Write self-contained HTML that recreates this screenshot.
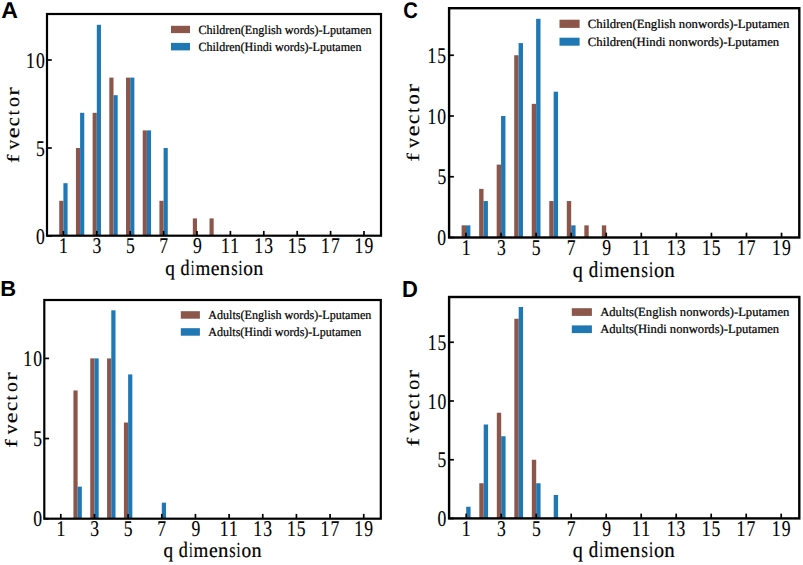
<!DOCTYPE html>
<html><head><meta charset="utf-8"><style>
html,body{margin:0;padding:0;background:#fff;width:803px;height:565px;overflow:hidden}
svg{display:block}
text{text-rendering:geometricPrecision;font-family:'Liberation Serif', serif;fill:#000;stroke:#000;stroke-width:0.12px}
</style></head><body>
<svg width="803" height="565" viewBox="0 0 803 565">
<rect width="803" height="565" fill="#fff"/>
<rect x="59.23" y="200.8" width="4.17" height="34.9" fill="#8c564b"/>
<rect x="75.92" y="148" width="4.17" height="87.7" fill="#8c564b"/>
<rect x="92.62" y="112.8" width="4.17" height="122.9" fill="#8c564b"/>
<rect x="109.33" y="77.6" width="4.17" height="158.1" fill="#8c564b"/>
<rect x="126.02" y="77.6" width="4.17" height="158.1" fill="#8c564b"/>
<rect x="142.72" y="130.4" width="4.17" height="105.3" fill="#8c564b"/>
<rect x="159.42" y="200.8" width="4.17" height="34.9" fill="#8c564b"/>
<rect x="192.82" y="218.4" width="4.17" height="17.3" fill="#8c564b"/>
<rect x="209.52" y="218.4" width="4.17" height="17.3" fill="#8c564b"/>
<rect x="63.4" y="183.2" width="4.17" height="52.5" fill="#1f77b4"/>
<rect x="80.1" y="112.8" width="4.17" height="122.9" fill="#1f77b4"/>
<rect x="96.8" y="24.8" width="4.17" height="210.9" fill="#1f77b4"/>
<rect x="113.5" y="95.2" width="4.17" height="140.5" fill="#1f77b4"/>
<rect x="130.2" y="77.6" width="4.17" height="158.1" fill="#1f77b4"/>
<rect x="146.9" y="130.4" width="4.17" height="105.3" fill="#1f77b4"/>
<rect x="163.6" y="148" width="4.17" height="87.7" fill="#1f77b4"/>
<rect x="47" y="14" width="334" height="221.7" fill="none" stroke="#000" stroke-width="2.2"/>
<line x1="63.4" y1="235.7" x2="63.4" y2="230.9" stroke="#000" stroke-width="1.7"/>
<line x1="96.8" y1="235.7" x2="96.8" y2="230.9" stroke="#000" stroke-width="1.7"/>
<line x1="130.2" y1="235.7" x2="130.2" y2="230.9" stroke="#000" stroke-width="1.7"/>
<line x1="163.6" y1="235.7" x2="163.6" y2="230.9" stroke="#000" stroke-width="1.7"/>
<line x1="197" y1="235.7" x2="197" y2="230.9" stroke="#000" stroke-width="1.7"/>
<line x1="230.4" y1="235.7" x2="230.4" y2="230.9" stroke="#000" stroke-width="1.7"/>
<line x1="263.8" y1="235.7" x2="263.8" y2="230.9" stroke="#000" stroke-width="1.7"/>
<line x1="297.2" y1="235.7" x2="297.2" y2="230.9" stroke="#000" stroke-width="1.7"/>
<line x1="330.6" y1="235.7" x2="330.6" y2="230.9" stroke="#000" stroke-width="1.7"/>
<line x1="364" y1="235.7" x2="364" y2="230.9" stroke="#000" stroke-width="1.7"/>
<line x1="47" y1="236" x2="51.8" y2="236" stroke="#000" stroke-width="1.7"/>
<line x1="47" y1="148" x2="51.8" y2="148" stroke="#000" stroke-width="1.7"/>
<line x1="47" y1="60" x2="51.8" y2="60" stroke="#000" stroke-width="1.7"/>
<text transform="translate(59.05 252.5) scale(0.783 1)" letter-spacing="1.4" font-size="22.5" style="stroke-width:0.15px">1</text>
<text transform="translate(92.62 252.5) scale(0.783 1)" letter-spacing="1.4" font-size="22.5" style="stroke-width:0.15px">3</text>
<text transform="translate(125.93 252.5) scale(0.783 1)" letter-spacing="1.4" font-size="22.5" style="stroke-width:0.15px">5</text>
<text transform="translate(159.17 252.5) scale(0.783 1)" letter-spacing="1.4" font-size="22.5" style="stroke-width:0.15px">7</text>
<text transform="translate(192.97 252.5) scale(0.783 1)" letter-spacing="1.4" font-size="22.5" style="stroke-width:0.15px">9</text>
<text transform="translate(221.1 252.5) scale(0.783 1)" letter-spacing="1.4" font-size="22.5" style="stroke-width:0.15px">11</text>
<text transform="translate(254.31 252.5) scale(0.783 1)" letter-spacing="1.4" font-size="22.5" style="stroke-width:0.15px">13</text>
<text transform="translate(287.71 252.5) scale(0.783 1)" letter-spacing="1.4" font-size="22.5" style="stroke-width:0.15px">15</text>
<text transform="translate(321.02 252.5) scale(0.783 1)" letter-spacing="1.4" font-size="22.5" style="stroke-width:0.15px">17</text>
<text transform="translate(354.53 252.5) scale(0.783 1)" letter-spacing="1.4" font-size="22.5" style="stroke-width:0.15px">19</text>
<text transform="translate(35.96 243.58) scale(0.783 1)" letter-spacing="1.4" font-size="22.5" style="stroke-width:0.15px">0</text>
<text transform="translate(35.98 155.58) scale(0.783 1)" letter-spacing="1.4" font-size="22.5" style="stroke-width:0.15px">5</text>
<text transform="translate(26.06 67.58) scale(0.783 1)" letter-spacing="1.4" font-size="22.5" style="stroke-width:0.15px">10</text>
<g transform="translate(165.6 274.5)"><text transform="translate(-0.30 0) scale(0.936 1)" font-size="20.60" style="stroke-width:0.2px">q</text><text transform="translate(14.94 0) scale(0.824 1)" font-size="22.04" style="stroke-width:0.2px">d</text><text transform="translate(25.35 0) scale(0.544 1)" font-size="21.63" style="stroke-width:0.2px">i</text><text transform="translate(29.80 0) scale(0.923 1)" font-size="20.60" style="stroke-width:0.2px">m</text><text transform="translate(45.13 0) scale(0.957 1)" font-size="20.60" style="stroke-width:0.2px">e</text><text transform="translate(54.22 0) scale(1.009 1)" font-size="20.60" style="stroke-width:0.2px">n</text><text transform="translate(65.53 0) scale(0.793 1)" font-size="20.60" style="stroke-width:0.2px">s</text><text transform="translate(72.80 0) scale(0.661 1)" font-size="21.63" style="stroke-width:0.2px">i</text><text transform="translate(77.66 0) scale(0.939 1)" font-size="20.60" style="stroke-width:0.2px">o</text><text transform="translate(87.64 0) scale(0.977 1)" font-size="20.60" style="stroke-width:0.2px">n</text></g>
<g transform="translate(18.8 162.6) rotate(-90)"><text transform="translate(-0.38 0) scale(1.485 1)" font-size="17.15" style="stroke-width:0.15px">f</text><text transform="translate(13.10 0) scale(1.018 1)" font-size="19.25" style="stroke-width:0.15px">v</text><text transform="translate(24.24 0) scale(1.277 1)" font-size="19.25" style="stroke-width:0.15px">e</text><text transform="translate(36.42 0) scale(1.067 1)" font-size="19.25" style="stroke-width:0.15px">c</text><text transform="translate(47.33 0) scale(0.934 1)" font-size="18.38" style="stroke-width:0.15px">t</text><text transform="translate(55.55 0) scale(1.030 1)" font-size="19.25" style="stroke-width:0.15px">o</text><text transform="translate(66.79 0) scale(1.315 1)" font-size="19.25" style="stroke-width:0.15px">r</text></g>
<rect x="171" y="25.8" width="19" height="7.3" fill="#8c564b"/>
<rect x="171" y="42.9" width="19" height="7.5" fill="#1f77b4"/>
<text x="198.4" y="33.9" font-size="12.5" textLength="173.28" lengthAdjust="spacingAndGlyphs" style="stroke-width:0.22px">Children(English words)-Lputamen</text>
<text x="198.41" y="50.9" font-size="12.5" textLength="163.08" lengthAdjust="spacingAndGlyphs" style="stroke-width:0.22px">Children(Hindi words)-Lputamen</text>
<text transform="translate(1.22 17.9) scale(1.006 1)" style="font-family:'Liberation Sans', sans-serif;font-weight:bold;stroke:none" font-size="22.97">A</text>
<rect x="73.42" y="390.46" width="4.21" height="128.24" fill="#8c564b"/>
<rect x="90.25" y="358.4" width="4.21" height="160.3" fill="#8c564b"/>
<rect x="107.08" y="358.4" width="4.21" height="160.3" fill="#8c564b"/>
<rect x="123.91" y="422.52" width="4.21" height="96.18" fill="#8c564b"/>
<rect x="77.63" y="486.64" width="4.21" height="32.06" fill="#1f77b4"/>
<rect x="94.46" y="358.4" width="4.21" height="160.3" fill="#1f77b4"/>
<rect x="111.29" y="310.31" width="4.21" height="208.39" fill="#1f77b4"/>
<rect x="128.12" y="374.43" width="4.21" height="144.27" fill="#1f77b4"/>
<rect x="161.78" y="502.67" width="4.21" height="16.03" fill="#1f77b4"/>
<rect x="44.3" y="300" width="336.5" height="218.7" fill="none" stroke="#000" stroke-width="2.2"/>
<line x1="60.8" y1="518.7" x2="60.8" y2="513.9" stroke="#000" stroke-width="1.7"/>
<line x1="94.46" y1="518.7" x2="94.46" y2="513.9" stroke="#000" stroke-width="1.7"/>
<line x1="128.12" y1="518.7" x2="128.12" y2="513.9" stroke="#000" stroke-width="1.7"/>
<line x1="161.78" y1="518.7" x2="161.78" y2="513.9" stroke="#000" stroke-width="1.7"/>
<line x1="195.44" y1="518.7" x2="195.44" y2="513.9" stroke="#000" stroke-width="1.7"/>
<line x1="229.1" y1="518.7" x2="229.1" y2="513.9" stroke="#000" stroke-width="1.7"/>
<line x1="262.76" y1="518.7" x2="262.76" y2="513.9" stroke="#000" stroke-width="1.7"/>
<line x1="296.42" y1="518.7" x2="296.42" y2="513.9" stroke="#000" stroke-width="1.7"/>
<line x1="330.08" y1="518.7" x2="330.08" y2="513.9" stroke="#000" stroke-width="1.7"/>
<line x1="363.74" y1="518.7" x2="363.74" y2="513.9" stroke="#000" stroke-width="1.7"/>
<line x1="44.3" y1="518.7" x2="49.1" y2="518.7" stroke="#000" stroke-width="1.7"/>
<line x1="44.3" y1="438.55" x2="49.1" y2="438.55" stroke="#000" stroke-width="1.7"/>
<line x1="44.3" y1="358.4" x2="49.1" y2="358.4" stroke="#000" stroke-width="1.7"/>
<text transform="translate(56.45 535.5) scale(0.783 1)" letter-spacing="1.4" font-size="22.5" style="stroke-width:0.15px">1</text>
<text transform="translate(90.28 535.5) scale(0.783 1)" letter-spacing="1.4" font-size="22.5" style="stroke-width:0.15px">3</text>
<text transform="translate(123.85 535.5) scale(0.783 1)" letter-spacing="1.4" font-size="22.5" style="stroke-width:0.15px">5</text>
<text transform="translate(157.35 535.5) scale(0.783 1)" letter-spacing="1.4" font-size="22.5" style="stroke-width:0.15px">7</text>
<text transform="translate(191.41 535.5) scale(0.783 1)" letter-spacing="1.4" font-size="22.5" style="stroke-width:0.15px">9</text>
<text transform="translate(219.8 535.5) scale(0.783 1)" letter-spacing="1.4" font-size="22.5" style="stroke-width:0.15px">11</text>
<text transform="translate(253.27 535.5) scale(0.783 1)" letter-spacing="1.4" font-size="22.5" style="stroke-width:0.15px">13</text>
<text transform="translate(286.93 535.5) scale(0.783 1)" letter-spacing="1.4" font-size="22.5" style="stroke-width:0.15px">15</text>
<text transform="translate(320.5 535.5) scale(0.783 1)" letter-spacing="1.4" font-size="22.5" style="stroke-width:0.15px">17</text>
<text transform="translate(354.27 535.5) scale(0.783 1)" letter-spacing="1.4" font-size="22.5" style="stroke-width:0.15px">19</text>
<text transform="translate(33.26 526.28) scale(0.783 1)" letter-spacing="1.4" font-size="22.5" style="stroke-width:0.15px">0</text>
<text transform="translate(33.28 446.13) scale(0.783 1)" letter-spacing="1.4" font-size="22.5" style="stroke-width:0.15px">5</text>
<text transform="translate(23.36 365.98) scale(0.783 1)" letter-spacing="1.4" font-size="22.5" style="stroke-width:0.15px">10</text>
<g transform="translate(163.8 556.7)"><text transform="translate(-0.30 0) scale(0.936 1)" font-size="20.60" style="stroke-width:0.2px">q</text><text transform="translate(14.94 0) scale(0.824 1)" font-size="22.04" style="stroke-width:0.2px">d</text><text transform="translate(25.35 0) scale(0.544 1)" font-size="21.63" style="stroke-width:0.2px">i</text><text transform="translate(29.80 0) scale(0.923 1)" font-size="20.60" style="stroke-width:0.2px">m</text><text transform="translate(45.13 0) scale(0.957 1)" font-size="20.60" style="stroke-width:0.2px">e</text><text transform="translate(54.22 0) scale(1.009 1)" font-size="20.60" style="stroke-width:0.2px">n</text><text transform="translate(65.53 0) scale(0.793 1)" font-size="20.60" style="stroke-width:0.2px">s</text><text transform="translate(72.80 0) scale(0.661 1)" font-size="21.63" style="stroke-width:0.2px">i</text><text transform="translate(77.66 0) scale(0.939 1)" font-size="20.60" style="stroke-width:0.2px">o</text><text transform="translate(87.64 0) scale(0.977 1)" font-size="20.60" style="stroke-width:0.2px">n</text></g>
<g transform="translate(16.5 447.3) rotate(-90)"><text transform="translate(-0.38 0) scale(1.485 1)" font-size="17.06" style="stroke-width:0.15px">f</text><text transform="translate(13.04 0) scale(1.018 1)" font-size="19.15" style="stroke-width:0.15px">v</text><text transform="translate(24.12 0) scale(1.277 1)" font-size="19.15" style="stroke-width:0.15px">e</text><text transform="translate(36.24 0) scale(1.066 1)" font-size="19.15" style="stroke-width:0.15px">c</text><text transform="translate(47.10 0) scale(0.933 1)" font-size="18.28" style="stroke-width:0.15px">t</text><text transform="translate(55.27 0) scale(1.029 1)" font-size="19.15" style="stroke-width:0.15px">o</text><text transform="translate(66.46 0) scale(1.314 1)" font-size="19.15" style="stroke-width:0.15px">r</text></g>
<rect x="180.8" y="311.2" width="19.1" height="7.5" fill="#8c564b"/>
<rect x="180.8" y="328.2" width="19.1" height="7.5" fill="#1f77b4"/>
<text x="208.18" y="319.1" font-size="12.5" textLength="163.2" lengthAdjust="spacingAndGlyphs" style="stroke-width:0.22px">Adults(English words)-Lputamen</text>
<text x="208.18" y="336.2" font-size="12.5" textLength="153.1" lengthAdjust="spacingAndGlyphs" style="stroke-width:0.22px">Adults(Hindi words)-Lputamen</text>
<text transform="translate(0.33 296.4) scale(1.015 1)" style="font-family:'Liberation Sans', sans-serif;font-weight:bold;stroke:none" font-size="21.66">B</text>
<rect x="461.62" y="225.35" width="4.38" height="12.15" fill="#8c564b"/>
<rect x="479.15" y="188.9" width="4.38" height="48.6" fill="#8c564b"/>
<rect x="496.68" y="164.6" width="4.38" height="72.9" fill="#8c564b"/>
<rect x="514.21" y="55.25" width="4.38" height="182.25" fill="#8c564b"/>
<rect x="531.74" y="103.85" width="4.38" height="133.65" fill="#8c564b"/>
<rect x="549.27" y="201.05" width="4.38" height="36.45" fill="#8c564b"/>
<rect x="566.8" y="201.05" width="4.38" height="36.45" fill="#8c564b"/>
<rect x="584.33" y="225.35" width="4.38" height="12.15" fill="#8c564b"/>
<rect x="601.86" y="225.35" width="4.38" height="12.15" fill="#8c564b"/>
<rect x="466" y="225.35" width="4.38" height="12.15" fill="#1f77b4"/>
<rect x="483.53" y="201.05" width="4.38" height="36.45" fill="#1f77b4"/>
<rect x="501.06" y="116" width="4.38" height="121.5" fill="#1f77b4"/>
<rect x="518.59" y="43.1" width="4.38" height="194.4" fill="#1f77b4"/>
<rect x="536.12" y="18.8" width="4.38" height="218.7" fill="#1f77b4"/>
<rect x="553.65" y="91.7" width="4.38" height="145.8" fill="#1f77b4"/>
<rect x="571.18" y="225.35" width="4.38" height="12.15" fill="#1f77b4"/>
<rect x="449.1" y="8.2" width="350.2" height="229.3" fill="none" stroke="#000" stroke-width="2.4"/>
<line x1="466" y1="237.5" x2="466" y2="232.7" stroke="#000" stroke-width="1.7"/>
<line x1="501.06" y1="237.5" x2="501.06" y2="232.7" stroke="#000" stroke-width="1.7"/>
<line x1="536.12" y1="237.5" x2="536.12" y2="232.7" stroke="#000" stroke-width="1.7"/>
<line x1="571.18" y1="237.5" x2="571.18" y2="232.7" stroke="#000" stroke-width="1.7"/>
<line x1="606.24" y1="237.5" x2="606.24" y2="232.7" stroke="#000" stroke-width="1.7"/>
<line x1="641.3" y1="237.5" x2="641.3" y2="232.7" stroke="#000" stroke-width="1.7"/>
<line x1="676.36" y1="237.5" x2="676.36" y2="232.7" stroke="#000" stroke-width="1.7"/>
<line x1="711.42" y1="237.5" x2="711.42" y2="232.7" stroke="#000" stroke-width="1.7"/>
<line x1="746.48" y1="237.5" x2="746.48" y2="232.7" stroke="#000" stroke-width="1.7"/>
<line x1="781.54" y1="237.5" x2="781.54" y2="232.7" stroke="#000" stroke-width="1.7"/>
<line x1="449.1" y1="237.5" x2="453.9" y2="237.5" stroke="#000" stroke-width="1.7"/>
<line x1="449.1" y1="176.75" x2="453.9" y2="176.75" stroke="#000" stroke-width="1.7"/>
<line x1="449.1" y1="116" x2="453.9" y2="116" stroke="#000" stroke-width="1.7"/>
<line x1="449.1" y1="55.25" x2="453.9" y2="55.25" stroke="#000" stroke-width="1.7"/>
<text transform="translate(461.65 254.9) scale(0.783 1)" letter-spacing="1.4" font-size="22.5" style="stroke-width:0.15px">1</text>
<text transform="translate(496.88 254.9) scale(0.783 1)" letter-spacing="1.4" font-size="22.5" style="stroke-width:0.15px">3</text>
<text transform="translate(531.85 254.9) scale(0.783 1)" letter-spacing="1.4" font-size="22.5" style="stroke-width:0.15px">5</text>
<text transform="translate(566.75 254.9) scale(0.783 1)" letter-spacing="1.4" font-size="22.5" style="stroke-width:0.15px">7</text>
<text transform="translate(602.21 254.9) scale(0.783 1)" letter-spacing="1.4" font-size="22.5" style="stroke-width:0.15px">9</text>
<text transform="translate(632 254.9) scale(0.783 1)" letter-spacing="1.4" font-size="22.5" style="stroke-width:0.15px">11</text>
<text transform="translate(666.87 254.9) scale(0.783 1)" letter-spacing="1.4" font-size="22.5" style="stroke-width:0.15px">13</text>
<text transform="translate(701.93 254.9) scale(0.783 1)" letter-spacing="1.4" font-size="22.5" style="stroke-width:0.15px">15</text>
<text transform="translate(736.9 254.9) scale(0.783 1)" letter-spacing="1.4" font-size="22.5" style="stroke-width:0.15px">17</text>
<text transform="translate(772.07 254.9) scale(0.783 1)" letter-spacing="1.4" font-size="22.5" style="stroke-width:0.15px">19</text>
<text transform="translate(437.36 245.08) scale(0.783 1)" letter-spacing="1.4" font-size="22.5" style="stroke-width:0.15px">0</text>
<text transform="translate(437.38 184.33) scale(0.783 1)" letter-spacing="1.4" font-size="22.5" style="stroke-width:0.15px">5</text>
<text transform="translate(427.46 123.58) scale(0.783 1)" letter-spacing="1.4" font-size="22.5" style="stroke-width:0.15px">10</text>
<text transform="translate(427.47 62.83) scale(0.783 1)" letter-spacing="1.4" font-size="22.5" style="stroke-width:0.15px">15</text>
<g transform="translate(573.2 277.2)"><text transform="translate(-0.33 0) scale(0.940 1)" font-size="21.42" style="stroke-width:0.2px">q</text><text transform="translate(15.52 0) scale(0.827 1)" font-size="22.92" style="stroke-width:0.2px">d</text><text transform="translate(26.35 0) scale(0.550 1)" font-size="22.50" style="stroke-width:0.2px">i</text><text transform="translate(30.98 0) scale(0.925 1)" font-size="21.42" style="stroke-width:0.2px">m</text><text transform="translate(46.92 0) scale(0.961 1)" font-size="21.42" style="stroke-width:0.2px">e</text><text transform="translate(56.37 0) scale(1.012 1)" font-size="21.42" style="stroke-width:0.2px">n</text><text transform="translate(68.13 0) scale(0.798 1)" font-size="21.42" style="stroke-width:0.2px">s</text><text transform="translate(75.69 0) scale(0.667 1)" font-size="22.50" style="stroke-width:0.2px">i</text><text transform="translate(80.75 0) scale(0.943 1)" font-size="21.42" style="stroke-width:0.2px">o</text><text transform="translate(91.13 0) scale(0.981 1)" font-size="21.42" style="stroke-width:0.2px">n</text></g>
<g transform="translate(419 161.3) rotate(-90)"><text transform="translate(-0.41 0) scale(1.489 1)" font-size="17.58" style="stroke-width:0.15px">f</text><text transform="translate(13.42 0) scale(1.020 1)" font-size="19.73" style="stroke-width:0.15px">v</text><text transform="translate(24.83 0) scale(1.280 1)" font-size="19.73" style="stroke-width:0.15px">e</text><text transform="translate(37.32 0) scale(1.069 1)" font-size="19.73" style="stroke-width:0.15px">c</text><text transform="translate(48.50 0) scale(0.938 1)" font-size="18.83" style="stroke-width:0.15px">t</text><text transform="translate(56.92 0) scale(1.032 1)" font-size="19.73" style="stroke-width:0.15px">o</text><text transform="translate(68.45 0) scale(1.318 1)" font-size="19.73" style="stroke-width:0.15px">r</text></g>
<rect x="559.5" y="19.7" width="20.1" height="8.2" fill="#8c564b"/>
<rect x="559.5" y="37.7" width="20.1" height="8" fill="#1f77b4"/>
<text x="587.78" y="28.3" font-size="12.5" textLength="201.62" lengthAdjust="spacingAndGlyphs" style="stroke-width:0.22px">Children(English nonwords)-Lputamen</text>
<text x="587.78" y="45.7" font-size="12.5" textLength="191.42" lengthAdjust="spacingAndGlyphs" style="stroke-width:0.22px">Children(Hindi nonwords)-Lputamen</text>
<text transform="translate(403.17 18) scale(0.892 1)" style="font-family:'Liberation Sans', sans-serif;font-weight:bold;stroke:none" font-size="22.63">C</text>
<rect x="479.32" y="483.25" width="4.38" height="35.15" fill="#8c564b"/>
<rect x="496.82" y="412.75" width="4.38" height="105.65" fill="#8c564b"/>
<rect x="514.33" y="318.75" width="4.38" height="199.65" fill="#8c564b"/>
<rect x="531.83" y="459.75" width="4.38" height="58.65" fill="#8c564b"/>
<rect x="466.2" y="506.75" width="4.38" height="11.65" fill="#1f77b4"/>
<rect x="483.7" y="424.5" width="4.38" height="93.9" fill="#1f77b4"/>
<rect x="501.2" y="436.25" width="4.38" height="82.15" fill="#1f77b4"/>
<rect x="518.7" y="307" width="4.38" height="211.4" fill="#1f77b4"/>
<rect x="536.2" y="483.25" width="4.38" height="35.15" fill="#1f77b4"/>
<rect x="553.7" y="495" width="4.38" height="23.4" fill="#1f77b4"/>
<rect x="449.1" y="297" width="350.2" height="221.4" fill="none" stroke="#000" stroke-width="2.4"/>
<line x1="466.2" y1="518.4" x2="466.2" y2="513.6" stroke="#000" stroke-width="1.7"/>
<line x1="501.2" y1="518.4" x2="501.2" y2="513.6" stroke="#000" stroke-width="1.7"/>
<line x1="536.2" y1="518.4" x2="536.2" y2="513.6" stroke="#000" stroke-width="1.7"/>
<line x1="571.2" y1="518.4" x2="571.2" y2="513.6" stroke="#000" stroke-width="1.7"/>
<line x1="606.2" y1="518.4" x2="606.2" y2="513.6" stroke="#000" stroke-width="1.7"/>
<line x1="641.2" y1="518.4" x2="641.2" y2="513.6" stroke="#000" stroke-width="1.7"/>
<line x1="676.2" y1="518.4" x2="676.2" y2="513.6" stroke="#000" stroke-width="1.7"/>
<line x1="711.2" y1="518.4" x2="711.2" y2="513.6" stroke="#000" stroke-width="1.7"/>
<line x1="746.2" y1="518.4" x2="746.2" y2="513.6" stroke="#000" stroke-width="1.7"/>
<line x1="781.2" y1="518.4" x2="781.2" y2="513.6" stroke="#000" stroke-width="1.7"/>
<line x1="449.1" y1="518.5" x2="453.9" y2="518.5" stroke="#000" stroke-width="1.7"/>
<line x1="449.1" y1="459.75" x2="453.9" y2="459.75" stroke="#000" stroke-width="1.7"/>
<line x1="449.1" y1="401" x2="453.9" y2="401" stroke="#000" stroke-width="1.7"/>
<line x1="449.1" y1="342.25" x2="453.9" y2="342.25" stroke="#000" stroke-width="1.7"/>
<text transform="translate(461.85 535.5) scale(0.783 1)" letter-spacing="1.4" font-size="22.5" style="stroke-width:0.15px">1</text>
<text transform="translate(497.02 535.5) scale(0.783 1)" letter-spacing="1.4" font-size="22.5" style="stroke-width:0.15px">3</text>
<text transform="translate(531.93 535.5) scale(0.783 1)" letter-spacing="1.4" font-size="22.5" style="stroke-width:0.15px">5</text>
<text transform="translate(566.77 535.5) scale(0.783 1)" letter-spacing="1.4" font-size="22.5" style="stroke-width:0.15px">7</text>
<text transform="translate(602.17 535.5) scale(0.783 1)" letter-spacing="1.4" font-size="22.5" style="stroke-width:0.15px">9</text>
<text transform="translate(631.9 535.5) scale(0.783 1)" letter-spacing="1.4" font-size="22.5" style="stroke-width:0.15px">11</text>
<text transform="translate(666.71 535.5) scale(0.783 1)" letter-spacing="1.4" font-size="22.5" style="stroke-width:0.15px">13</text>
<text transform="translate(701.71 535.5) scale(0.783 1)" letter-spacing="1.4" font-size="22.5" style="stroke-width:0.15px">15</text>
<text transform="translate(736.62 535.5) scale(0.783 1)" letter-spacing="1.4" font-size="22.5" style="stroke-width:0.15px">17</text>
<text transform="translate(771.73 535.5) scale(0.783 1)" letter-spacing="1.4" font-size="22.5" style="stroke-width:0.15px">19</text>
<text transform="translate(437.56 526.08) scale(0.783 1)" letter-spacing="1.4" font-size="22.5" style="stroke-width:0.15px">0</text>
<text transform="translate(437.58 467.33) scale(0.783 1)" letter-spacing="1.4" font-size="22.5" style="stroke-width:0.15px">5</text>
<text transform="translate(427.66 408.58) scale(0.783 1)" letter-spacing="1.4" font-size="22.5" style="stroke-width:0.15px">10</text>
<text transform="translate(427.67 349.83) scale(0.783 1)" letter-spacing="1.4" font-size="22.5" style="stroke-width:0.15px">15</text>
<g transform="translate(573.2 556.7)"><text transform="translate(-0.33 0) scale(0.940 1)" font-size="21.42" style="stroke-width:0.2px">q</text><text transform="translate(15.52 0) scale(0.827 1)" font-size="22.92" style="stroke-width:0.2px">d</text><text transform="translate(26.35 0) scale(0.550 1)" font-size="22.50" style="stroke-width:0.2px">i</text><text transform="translate(30.98 0) scale(0.925 1)" font-size="21.42" style="stroke-width:0.2px">m</text><text transform="translate(46.92 0) scale(0.961 1)" font-size="21.42" style="stroke-width:0.2px">e</text><text transform="translate(56.37 0) scale(1.012 1)" font-size="21.42" style="stroke-width:0.2px">n</text><text transform="translate(68.13 0) scale(0.798 1)" font-size="21.42" style="stroke-width:0.2px">s</text><text transform="translate(75.69 0) scale(0.667 1)" font-size="22.50" style="stroke-width:0.2px">i</text><text transform="translate(80.75 0) scale(0.943 1)" font-size="21.42" style="stroke-width:0.2px">o</text><text transform="translate(91.13 0) scale(0.981 1)" font-size="21.42" style="stroke-width:0.2px">n</text></g>
<g transform="translate(419 446.2) rotate(-90)"><text transform="translate(-0.40 0) scale(1.488 1)" font-size="17.41" style="stroke-width:0.15px">f</text><text transform="translate(13.29 0) scale(1.019 1)" font-size="19.54" style="stroke-width:0.15px">v</text><text transform="translate(24.60 0) scale(1.279 1)" font-size="19.54" style="stroke-width:0.15px">e</text><text transform="translate(36.96 0) scale(1.068 1)" font-size="19.54" style="stroke-width:0.15px">c</text><text transform="translate(48.04 0) scale(0.936 1)" font-size="18.65" style="stroke-width:0.15px">t</text><text transform="translate(56.37 0) scale(1.031 1)" font-size="19.54" style="stroke-width:0.15px">o</text><text transform="translate(67.79 0) scale(1.317 1)" font-size="19.54" style="stroke-width:0.15px">r</text></g>
<rect x="571.8" y="308.2" width="20.1" height="7.7" fill="#8c564b"/>
<rect x="571.8" y="325.4" width="20.1" height="7.7" fill="#1f77b4"/>
<text x="600.18" y="316.1" font-size="12.5" textLength="189.21" lengthAdjust="spacingAndGlyphs" style="stroke-width:0.22px">Adults(English nonwords)-Lputamen</text>
<text x="600.18" y="333.3" font-size="12.5" textLength="178.91" lengthAdjust="spacingAndGlyphs" style="stroke-width:0.22px">Adults(Hindi nonwords)-Lputamen</text>
<text transform="translate(401.93 296.5) scale(0.952 1)" style="font-family:'Liberation Sans', sans-serif;font-weight:bold;stroke:none" font-size="23.11">D</text>
</svg>
</body></html>
